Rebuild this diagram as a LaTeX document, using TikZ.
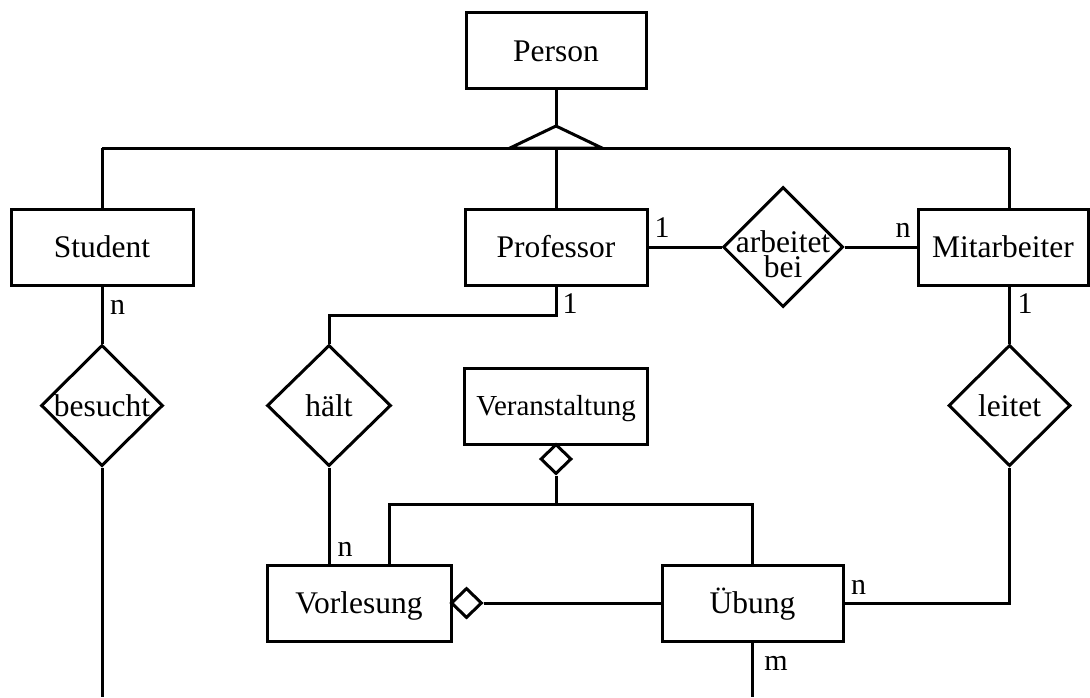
\documentclass[tikz,border=0pt]{standalone}
\usepackage{fontspec}
\setmainfont{Liberation Serif}
\usetikzlibrary{shapes.geometric}
\begin{document}
\begin{tikzpicture}[x=1pt,y=-1pt,line width=3pt,line join=miter,
  entity/.style={draw,rectangle,inner sep=0pt,minimum width=#1,minimum height=76pt,
    font=\fontsize{31.5}{34}\selectfont,text height=21pt,text depth=0pt},
  reldiamond/.style={draw,diamond,inner sep=0pt,minimum width=122pt,minimum height=121pt},
  reltext/.style={font=\fontsize{31.5}{25}\selectfont,inner sep=0pt},
  agg/.style={draw,diamond,inner sep=0pt,minimum width=31pt,minimum height=30pt,fill=white},
  card/.style={font=\fontsize{30}{32}\selectfont,anchor=base,inner sep=0pt}]
\useasboundingbox (0,0) rectangle (1090,697);
\coordinate (floor) at (0,697);

% entities
\node[entity=180pt] (person) at (556,50.5) {Person};
\node[entity=182pt] (student) at (102,247) {Student};
\node[entity=182pt] (prof) at (556,247) {Professor};
\node[entity=170pt] (mit) at (1003,247) {Mitarbeiter};
\node[entity=183pt,font=\fontsize{29}{31}\selectfont,text height=19.5pt] (veran) at (556,406) {Veranstaltung};
\node[entity=184pt] (vorl) at (359,603) {Vorlesung};
\node[entity=181pt] (ueb) at (752.5,603) {Übung};

% relationships
\node[reldiamond,label={[reltext]center:besucht}] (besucht) at (102,405.5) {};
\node[reldiamond,minimum width=124pt,label={[reltext]center:hält}] (halt) at (329,405.5) {};
\node[reldiamond,minimum width=120pt,minimum height=120pt,
  label={[reltext,align=center,yshift=-7pt]center:arbeitet\\bei}] (arb) at (783,247) {};
\node[reldiamond,label={[reltext]center:leitet}] (leitet) at (1009.5,405.5) {};

% generalisation
\coordinate (apex) at (556,126);
\coordinate (genbase) at (556,148);
\coordinate (genL) at (102,148);
\coordinate (genR) at (1009.5,148);
\draw (person.south) -- (apex);
\draw (apex) -- (510,148) -- (602,148) -- cycle;
\draw (genL) -- (genR);
\draw (genL) -- (student.north);
\draw (genbase) -- (prof.north);
\draw (genR) -- (genR |- mit.north);

% aggregation
\node[agg] (aggV) at (556,459) {};
\node[agg] (aggL) at (466.5,603) {};
\coordinate (vjoin) at (556,504);
\coordinate (vl) at (389,504);
\coordinate (ul) at (752.5,504);
\draw (veran.south) -- (aggV.north);
\draw (aggV.south) -- (vjoin);
\draw (vl |- vorl.north) -- (vl) -- (ul) -- (ul |- ueb.north);
\draw (aggL.east) -- (ueb.west);

% relationship connectors
\draw (student.south) -- (besucht.north);
\draw (besucht.south) -- (besucht.south |- floor);
\draw (prof.south) -- ++(0,29) -| (halt.north);
\draw (halt.south) -- (halt.south |- vorl.north);
\draw (prof.east) -- (arb.west);
\draw (arb.east) -- (mit.west);
\draw (leitet.north) -- (leitet.north |- mit.south);
\draw (ueb.east) -| (leitet.south);
\draw (ueb.south) -- (ueb.south |- floor);

% cardinalities
\node[card] (cStud) at (117.5,314) {n};
\node[card] (cProfA) at (662,237) {1};
\node[card] (cMitA) at (903,237) {n};
\node[card] (cProfH) at (570,313) {1};
\node[card] (cMitL) at (1025,313) {1};
\node[card] (cVorl) at (345,556) {n};
\node[card] (cUebL) at (858.5,594) {n};
\node[card] (cUebS) at (776,670) {m};
\end{tikzpicture}
\end{document}
